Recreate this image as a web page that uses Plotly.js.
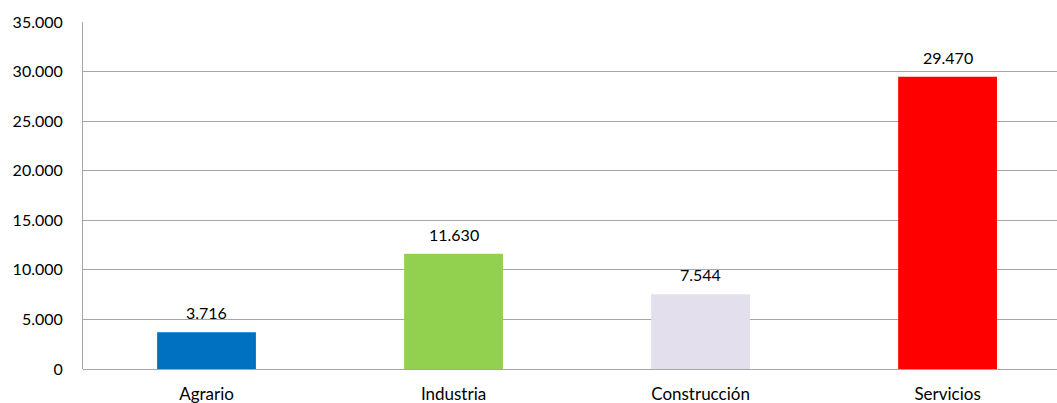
<!DOCTYPE html>
<html>
<head>
<meta charset="utf-8">
<script src="https://cdn.plot.ly/plotly-3.0.1.min.js"></script>
<style>html,body{margin:0;padding:0;background:#fff;}#chart{width:1057px;height:403px;}</style>
</head>
<body>
<div id="chart"></div>
<script>
const categories = ["Agrario", "Industria", "Construcción", "Servicios"];
const values = [3716, 11630, 7544, 29470];
const barColors = ["#0070C0", "#92D050", "#E4DFEC", "#FF0000"];
const yTicks = [0, 5000, 10000, 15000, 20000, 25000, 30000, 35000];

const FONT = "Lato, 'Open Sans', sans-serif";

const trace = {
  type: "bar",
  x: categories,
  y: values,
  marker: {color: barColors},
  hoverinfo: "none"
};

const annotations = categories.map((c, i) => ({
  x: c,
  y: values[i],
  xref: "x",
  yref: "y",
  text: values[i].toLocaleString("de-DE"),
  showarrow: false,
  yanchor: "bottom",
  yshift: 8,
  font: {family: FONT, size: 16, color: "#000"}
}));

const layout = {
  width: 1057,
  height: 403,
  margin: {l: 83, r: 0, t: 22, b: 34},
  paper_bgcolor: "#fff",
  plot_bgcolor: "#fff",
  separators: ",.",
  bargap: 0.6,
  showlegend: false,
  font: {family: FONT, size: 16, color: "#000"},
  xaxis: {
    type: "category",
    range: [-0.5, 3.443],
    showgrid: false,
    showline: false,
    ticks: "",
    ticklabelstandoff: 13,
    tickfont: {family: FONT, size: 17, color: "#000"},
    fixedrange: true
  },
  yaxis: {
    range: [0, 35000],
    tickvals: yTicks,
    tickformat: ",d",
    showgrid: true,
    gridcolor: "#A6A6A6",
    gridwidth: 1,
    zeroline: true,
    zerolinecolor: "#A6A6A6",
    zerolinewidth: 1,
    showline: true,
    linecolor: "#A6A6A6",
    linewidth: 1,
    ticks: "",
    ticklabelstandoff: 16,
    tickfont: {family: FONT, size: 16, color: "#000"},
    fixedrange: true
  },
  annotations: annotations
};

Plotly.newPlot("chart", [trace], layout, {displayModeBar: false, staticPlot: true});
</script>
</body>
</html>
